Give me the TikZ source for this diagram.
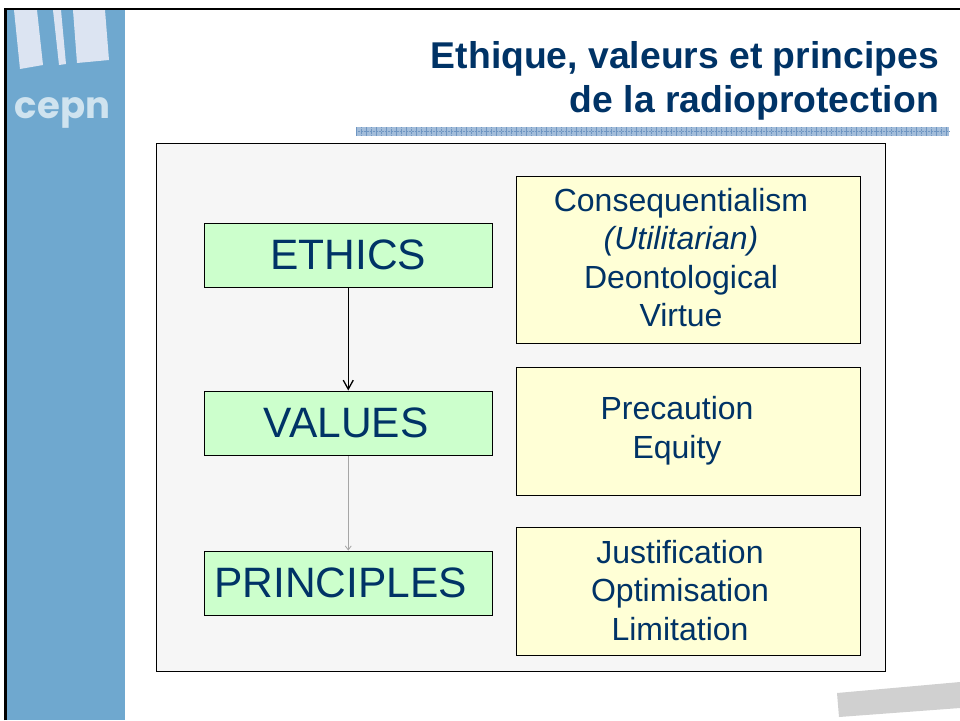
\documentclass[tikz,border=0pt]{standalone}
\usepackage{fontspec}
\setmainfont{Liberation Sans}
\newfontfamily\logofont{Poppins}
\usetikzlibrary{arrows.meta}
\definecolor{navy}{HTML}{003366}
\definecolor{sidebar}{HTML}{6FA8CF}
\definecolor{logobar}{HTML}{DCE4F2}
\definecolor{logotext}{HTML}{CFE3EF}
\definecolor{panel}{HTML}{F6F6F6}
\definecolor{greenfill}{HTML}{CCFFCC}
\definecolor{yellowfill}{HTML}{FFFFD6}
\definecolor{bandfill}{HTML}{A3BDDA}
\definecolor{bandline}{HTML}{6F96C2}
\definecolor{stripgray}{HTML}{D0D0D0}
\tikzset{
 greenbox/.style={draw=black, fill=greenfill, line width=1pt, minimum width=288.5pt, minimum height=64.5pt, inner sep=0, text=navy, font=\fontsize{42.5}{50}\selectfont},
 yellowbox/.style={draw=black, fill=yellowfill, line width=1pt, minimum width=344.5pt, inner sep=0},
 yellowtext/.style={text=navy, align=center, inner sep=0, font=\fontsize{32}{38.5}\selectfont},
}
\begin{document}
\begin{tikzpicture}[x=1pt,y=-1pt]
\useasboundingbox (0,0) rectangle (960,720);
% side bar and logo
\fill[sidebar] (7,10) rectangle (124.5,720);
\fill[logobar] (14,10)--(37,10)--(43,65)--(20,69)--cycle;
\fill[logobar] (53,10)--(61,10)--(66,64)--(59,65)--cycle;
\fill[logobar] (73,10)--(105,10)--(109,60)--(77,63)--cycle;
\node[text=logotext, inner sep=0, font=\logofont\fontsize{37}{40}\selectfont\bfseries] (logo) at (62.5,113) {cepn};
\draw[black, line width=2.3pt] (5.5,720)--(5.5,8.7)--(960,8.7);
% title
\node[anchor=east, text=navy, align=right, inner sep=0, font=\fontsize{37.3}{44}\selectfont\bfseries] (title) at (939,81) {Ethique, valeurs et principes\\de la radioprotection};
\fill[bandfill] (356,127) rectangle (949,136);
\foreach \x in {356,366,...,946} {
 \draw[bandline, line width=.6pt] ({\x},127) --++(0,9);
}
\foreach \x in {361,371,...,941} {
 \draw[bandline, line width=.5pt, densely dotted] ({\x},127) --++(0,9);
}
\draw[bandline, line width=.5pt, densely dotted] (356,131.5) -- (949,131.5);
% panel
\draw[black, fill=panel, line width=1pt] (156.5,143.5) rectangle (885.5,671.5);
% left column
\node[greenbox] (ethics) at (348.25,255.25) {ETHICS};
\node[greenbox] (values) at (348.25,423.25) {VALUES\hspace{4pt}\null};
\node[greenbox] (principles) at (348.25,583.25) {PRINCIPLES\hspace{15pt}\null};
\draw[black, line width=1.3pt, -{Straight Barb[length=9pt,width=10pt]}] (ethics) -- (values);
\draw[black!35, line width=.8pt, -{Straight Barb[length=4pt,width=6pt]}] (values) -- (principles);
% right column
\node[yellowbox, minimum height=167.5pt] (consequences) at (688.25,259.75) {};
\node[yellowbox, minimum height=128.5pt] (precaution) at (688.25,431.25) {};
\node[yellowbox, minimum height=128.5pt] (justification) at (688.25,591.25) {};
\node[yellowtext] (consequencestext) at (681,257.5) {Consequentialism\\\textit{(Utilitarian)}\\Deontological\\Virtue};
\node[yellowtext] (precautiontext) at (677,430.5) {Precaution\\Equity};
\node[yellowtext] (justificationtext) at (680,590.5) {Justification\\Optimisation\\Limitation};
% corner strip
\fill[stripgray] (837,693)--(960,682)--(960,708)--(839,717)--cycle;
\end{tikzpicture}
\end{document}
